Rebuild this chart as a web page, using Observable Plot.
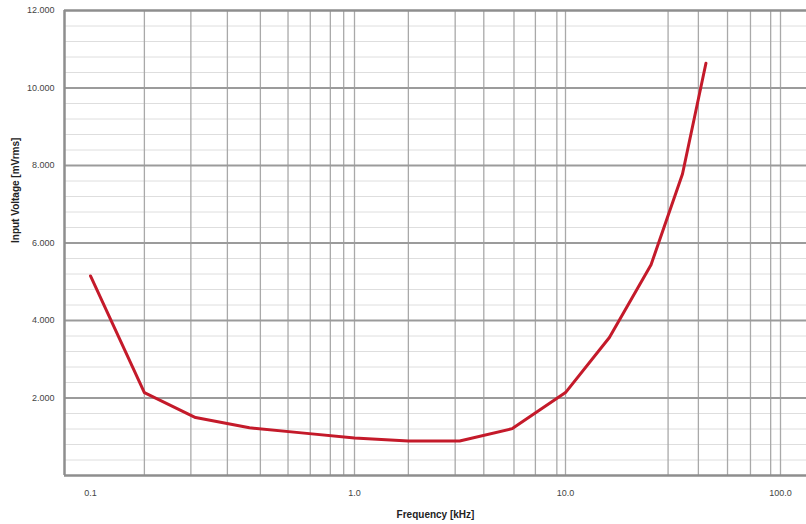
<!DOCTYPE html>
<html><head><meta charset="utf-8">
<script src="https://cdn.jsdelivr.net/npm/d3@7"></script>
<script src="https://cdn.jsdelivr.net/npm/@observablehq/plot@0.6"></script>
<style>body{margin:0;background:#fff} svg{display:block}</style>
</head><body><div id="chart"></div>
<script>
// Data
const frequency = [0.1, 0.16, 0.25, 0.4, 0.63, 1.0, 1.8, 3.15, 5.6, 10, 16, 25, 35, 45];
const voltage   = [5150, 2140, 1495, 1230, 1100, 970, 890, 890, 1210, 2140, 3560, 5440, 7780, 10640];

const xTicks = [0.1, 1, 10, 100];
const yTicks = [2000, 4000, 6000, 8000, 10000, 12000];
const xGrid  = [0.16, 0.24, 0.33, 0.44, 0.56, 0.68, 0.81, 0.91, 1, 1.8, 3, 4.1, 5.7, 7.2, 9.1, 10, 30, 41.5, 56.7, 72.5, 90, 100];
const yMajor = [2000, 4000, 6000, 8000, 10000];
const yMinor = d3.range(400, 12000, 400).filter(v => v % 2000 !== 0);
const xDomain = [0.079, 0.1, 1, 10, 100, 128];

const data = frequency.map((f, i) => ({f, v: voltage[i]}));
const eu = d3.formatLocale({decimal: ",", thousands: ".", grouping: [3], currency: ["", ""]});
const fmtY = eu.format(",");

const chart = Plot.plot({
  width: 806,
  height: 524,
  marginLeft: 64,
  marginRight: 0,
  marginTop: 10,
  marginBottom: 49,
  style: {fontFamily: "'Liberation Sans', Arial, sans-serif", fontSize: "9px", background: "#fff"},
  x: {type: "log", domain: xDomain, range: [64, 90, 354, 565, 780, 806]},
  y: {domain: [0, 12000]},
  marks: [
    Plot.ruleY(yMinor, {stroke: "#dedede", strokeWidth: 1}),
    Plot.ruleX(xGrid, {stroke: "#a9a9a9", strokeWidth: 1.3}),
    Plot.ruleY(yMajor, {stroke: "#9b9b9b", strokeWidth: 2}),
    Plot.ruleY([0, 12000], {stroke: "#8e8e8e", strokeWidth: 2.5}),
    Plot.ruleX([xDomain[0]], {stroke: "#8e8e8e", strokeWidth: 2.5}),
    Plot.line(data, {x: "f", y: "v", stroke: "#c41a2a", strokeWidth: 3, strokeLinejoin: "round"}),
    Plot.axisY(yTicks, {tickSize: 0, tickPadding: 10, tickFormat: fmtY, fill: "#444", label: null}),
    Plot.axisX(xTicks, {tickSize: 0, tickPadding: 14, tickFormat: d3.format(".1f"), fill: "#444", label: null}),
    Plot.text(["Input Voltage [mVrms]"], {frameAnchor: "left", dx: -49, rotate: -90, fontWeight: "bold", fontSize: 10, fill: "#222", lineAnchor: "middle"}),
    Plot.text(["Frequency [kHz]"], {frameAnchor: "bottom", dy: 39, fontWeight: "bold", fontSize: 10, fill: "#222", lineAnchor: "middle"})
  ]
});
document.getElementById("chart").append(chart);
</script>
</body></html>
